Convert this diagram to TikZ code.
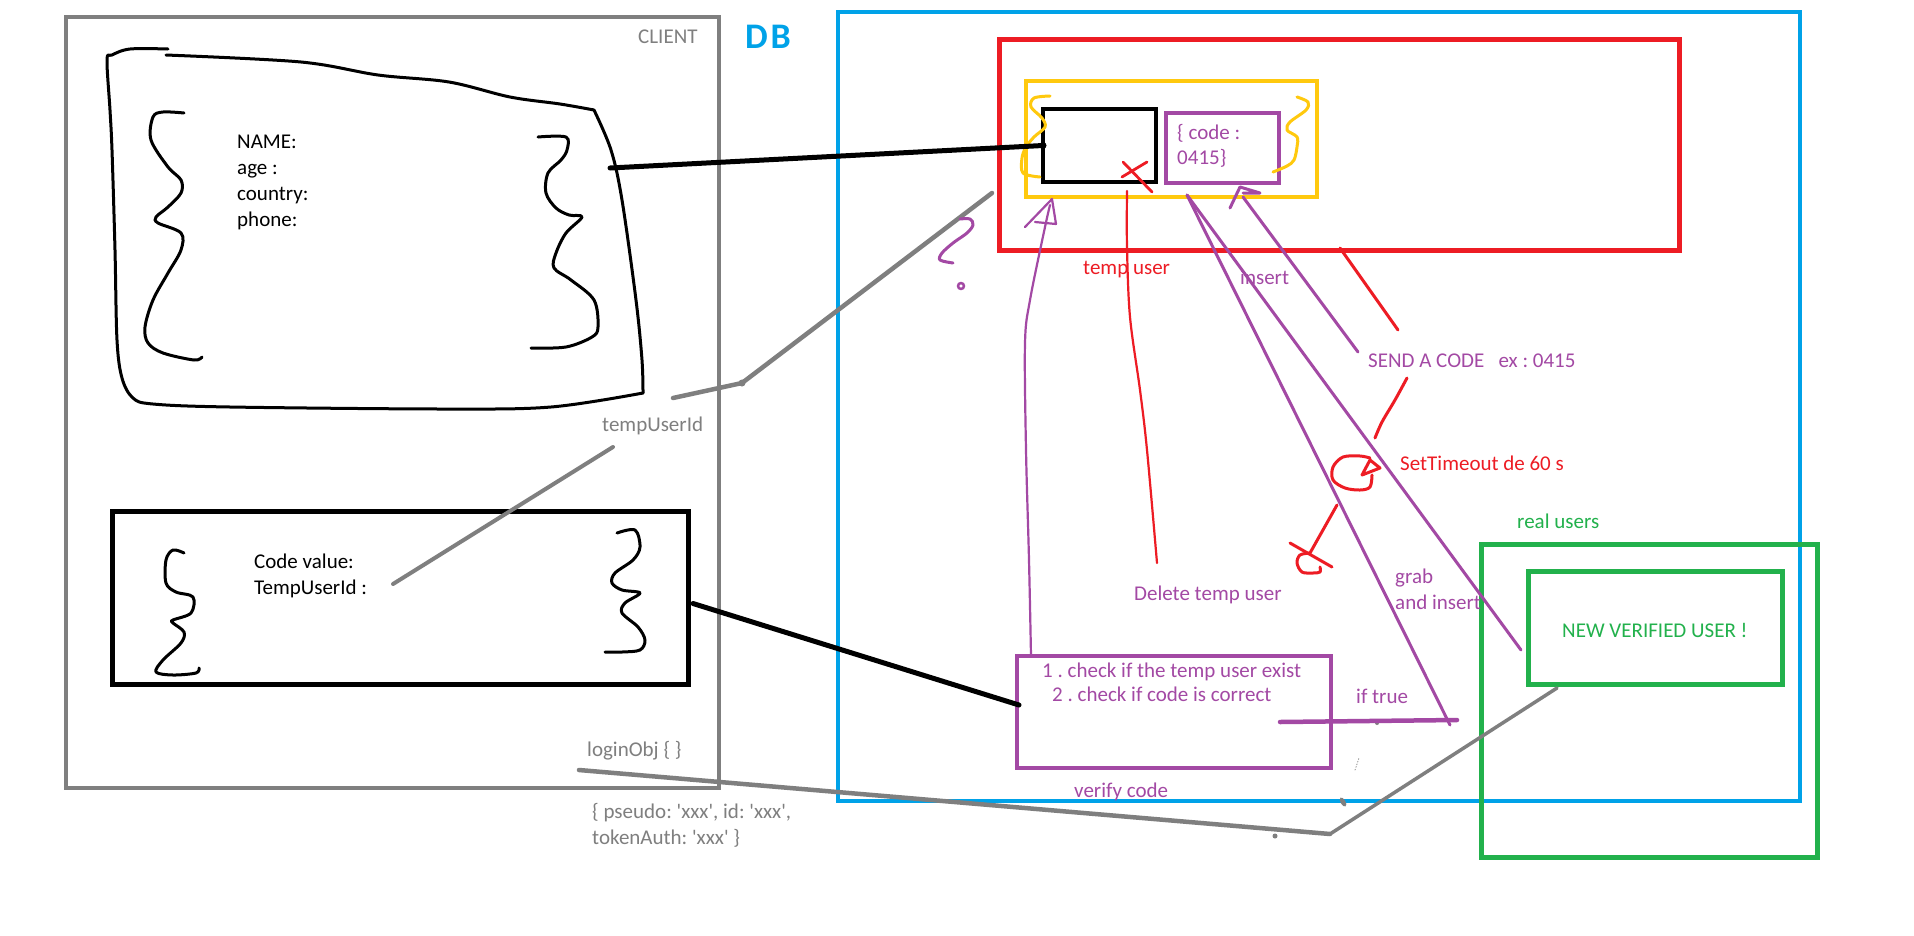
\documentclass[tikz,border=0pt]{standalone}
\usepackage{fontspec}
\setmainfont{Carlito}
\usetikzlibrary{calc}
\definecolor{pgray}{HTML}{7F7F7F}
\definecolor{pblue}{HTML}{00A2E8}
\definecolor{pred}{HTML}{ED1C24}
\definecolor{pyellow}{HTML}{FFC90E}
\definecolor{ppurple}{HTML}{A349A4}
\definecolor{pgreen}{HTML}{22B14C}
\newcommand\sq{\textquotesingle}
\begin{document}
\frenchspacing
\begin{tikzpicture}[x=1pt,y=-1pt,line cap=round,line join=round,
  box/.style={draw,inner sep=0pt,outer sep=0pt,anchor=north west,line width=4.5pt,line join=miter,line cap=butt},
  lbl/.style={inner sep=0pt,anchor=base west,font=\fontsize{21}{25}\selectfont},
  ink/.style={line width=3pt,black},
  pen/.style={line width=3pt},
  thin pen/.style={line width=2.2pt},
  sketch/.style={smooth,tension=0.55}]
\useasboundingbox (0,0) rectangle (1914,935);
\fill[white] (0,0) rectangle (1914,935);

% ---------- frames ----------
\node[box,pgray,line width=4pt,minimum width=653pt,minimum height=771pt] (client) at (66,17) {};
\node[box,pblue,minimum width=962pt,minimum height=789pt] (db) at (838,12) {};
\node[box,pred,line width=5pt,minimum width=680pt,minimum height=211pt] (temptable) at (999,39) {};
\node[box,pyellow,minimum width=291pt,minimum height=116pt] (tempdoc) at (1026,81) {};
\node[box,black,minimum width=113pt,minimum height=73pt] (tb) at (1043,109) {};
\node[box,ppurple,minimum width=113pt,minimum height=70pt] (codedoc) at (1166,113) {};
\node[box,ppurple,minimum width=314pt,minimum height=112pt] (verify) at (1017,656) {};
\node[box,pgreen,line width=5pt,minimum width=336pt,minimum height=313pt] (realusers) at (1481,544) {};
\node[box,pgreen,line width=5pt,minimum width=254pt,minimum height=113pt] (nvu) at (1528,571) {};
\node[box,black,line width=5pt,minimum width=576pt,minimum height=173pt] (codebox) at (112,511) {};

% ---------- hand-drawn registration form ----------
\draw[ink] plot[sketch] coordinates {(168,49) (130,49) (112,55) (107,60) (110,110) (112,150) (115,250) (117,340) (122,378) (133,398) (153,404) (230,407) (444,409) (551,407) (643,393)};
\draw[ink] plot[sketch] coordinates {(643,393) (642,360) (636,300) (622,200) (611,150) (594,110)};
\draw[ink] plot[sketch] coordinates {(166,55) (301,62) (378,75) (449,82) (510,97) (560,104) (594,110)};
% braces of the form
\draw[ink] plot[sketch] coordinates {(184,113) (163,112) (153,117) (151,140) (168,167) (181,180) (181,193) (168,207) (156,217) (158,223) (181,233) (181,250) (168,273) (153,300) (145,327) (148,343) (163,353) (194,360) (202,357)};
\draw[ink] plot[sketch] coordinates {(538,137) (566,137) (567,150) (561,160) (548,173) (546,193) (556,208) (569,215) (582,217) (566,233) (556,253) (554,268) (571,280) (594,300) (598,327) (592,337) (566,347) (531,348)};
% braces of the code form
\draw[ink] plot[sketch] coordinates {(184,553) (173,550) (166,560) (166,583) (176,592) (193,597) (191,613) (173,620) (173,623) (184,632) (181,643) (163,660) (156,672) (173,675) (196,673) (199,668)};
\draw[ink] plot[sketch] coordinates {(617,533) (635,530) (640,547) (633,560) (615,573) (612,583) (622,590) (640,593) (625,603) (622,613) (638,627) (645,640) (640,650) (622,652) (605,652)};
% braces of the temporary document
\draw[pyellow,pen] plot[sketch] coordinates {(1050,96) (1034,98) (1031,107) (1042,118) (1045,127) (1034,137) (1026,147) (1022,158) (1023,173) (1040,177)};
\draw[pyellow,pen] plot[sketch] coordinates {(1297,97) (1308,102) (1306,110) (1290,122) (1287,130) (1297,137) (1297,147) (1294,160) (1287,166) (1273,172)};

% ---------- texts ----------
\node[lbl,pgray] (clientlbl) at (638,43) {CLIENT};
\node[pblue,inner sep=0pt,font=\fontsize{36}{36}\selectfont\bfseries] (dblbl) at (768,37) {D\kern3pt B};
\node[lbl] (fname) at (237,148) {NAME:};
\node[lbl] (fage) at (237,174) {age :};
\node[lbl] (fcountry) at (237,200) {country:};
\node[lbl] (fphone) at (237,226) {phone:};
\node[lbl,pgray] (tuid) at (602,431) {tempUserId};
\node[lbl] (fcode) at (254,568) {Code value:};
\node[lbl] (ftuid) at (254,594) {TempUserId :};
\node[lbl,pgray] (login) at (587,756) {loginObj \{ \}};
\node[lbl,pgray] (login1) at (592,818) {\{ pseudo: \sq xxx\sq, id: \sq xxx\sq,};
\node[lbl,pgray] (login2) at (592,844) {tokenAuth: \sq xxx\sq\ \}};
\node[lbl,ppurple] (code1) at (1177,139) {\{ code :};
\node[lbl,ppurple] (code2) at (1177,164) {0415\}};
\node[lbl,pred] (tulbl) at (1083,274) {temp user};
\node[lbl,ppurple] (inslbl) at (1240,284) {insert};
\node[lbl,ppurple] (sendlbl) at (1368,367) {SEND A CODE\hspace{0.678em}ex : 0415};
\node[lbl,pred] (timeout) at (1400,470) {SetTimeout de 60 s};
\node[lbl,ppurple] (dellbl) at (1134,600) {Delete temp user};
\node[lbl,ppurple] (grab1) at (1395,583) {grab};
\node[lbl,ppurple] (grab2) at (1395,609) {and insert};
\node[lbl,pgreen] (rulbl) at (1517,528) {real users};
\node[lbl,pgreen] (nvulbl) at (1562,637) {NEW VERIFIED USER !};
\node[lbl,ppurple] (chk1) at (1042,677) {1 . check if the temp user exist};
\node[lbl,ppurple] (chk2) at (1052,701) {2 . check if code is correct};
\node[lbl,ppurple] (iftrue) at (1356,703) {if true};
\node[lbl,ppurple] (vlbl) at (1074,797) {verify code};

% ---------- connector points ----------
\coordinate (formport) at (610,168);
\coordinate (tuidfrom) at (673,398);
\coordinate (tuidbend) at (742,383);
\coordinate (tuidto) at (992,193);
\coordinate (codeid) at (393,584);
\coordinate (codeidto) at (613,447);
\coordinate (loginfrom) at (579,770);
\coordinate (loginbend) at (1330,834);
\coordinate (loginto) at (1557,688);
\coordinate (docfoot) at (1187,195);
\coordinate (grabend) at (1450,725);
\coordinate (insend) at (1521,650);
\coordinate (sendfrom) at (1358,352);
\coordinate (codefoot) at (1243,197);
\coordinate (trueend) at (1457,720);

% ---------- black links ----------
\draw[black,line width=5pt] (formport) -- (tb.west);
\fill (tb.west) circle (3.5pt);
\draw[black,line width=5pt] ($(codebox.east)+(5,6)$) -- ($(verify.west)+(2,-7)$);

% ---------- gray links ----------
\draw[pgray,line width=4.5pt] (tuidfrom) -- (tuidbend) -- (tuidto);
\fill[pgray] (tuidbend) circle (3.5pt);
\draw[pgray,line width=4pt] (codeid) -- (codeidto);
\draw[pgray,line width=4.5pt] (loginfrom) -- (loginbend);
\draw[pgray,line width=3.5pt] (loginbend) -- (loginto);
\fill[pgray] (1275,836) circle (2.5pt);
\fill[pgray,rotate around={-60:(1343,802)}] (1343,802) ellipse (5pt and 2.5pt);
\fill[pgray] (1377,723) circle (2pt);
\draw[pgray,line width=0.8pt,dotted] (1355,770) -- (1359,758);

% ---------- purple links ----------
% verify code -> temporary document
\draw[ppurple,thin pen] plot[sketch] coordinates {(1031,656) (1029,560) (1026,450) (1025,343) (1030,300) (1045,227) (1050,205)};
\draw[ppurple,thin pen] (1025,227) -- (1052,199) -- (1056,224) -- (1035,222);
% temporary document -> grab / insert
\draw[ppurple,pen] (docfoot) -- (grabend);
\draw[ppurple,pen] (docfoot) -- (insend);
\draw[ppurple,line width=4.5pt] (1280,722) -- (trueend);
% send a code -> insert
\draw[ppurple,pen] (sendfrom) -- (codefoot);
\draw[ppurple,pen] (1230,208) -- (1240,187) -- (1260,193) -- (1243,193);
% question mark
\draw[ppurple,pen] plot[sketch] coordinates {(960,219) (970,219) (973,225) (967,233) (953,243) (942,253) (940,260) (953,263)};
\draw[ppurple,line width=2.5pt] (961,286) circle (3pt);

% ---------- red strokes ----------
\draw[pred,line width=2.8pt] (1123,162) -- (1152,192);
\draw[pred,line width=2.8pt] (1147,162) -- (1122,177);
\draw[pred,line width=2.2pt] plot[sketch] coordinates {(1127,191) (1127,247) (1130,317) (1140,390) (1147,450) (1157,563)};
\draw[pred,pen] (1340,248) -- (1398,330);
\draw[pred,pen] plot[sketch] coordinates {(1407,378) (1395,400) (1382,422) (1375,438)};
% timer
\draw[pred,pen] plot[sketch] coordinates {(1370,458) (1360,456) (1343,457) (1333,467) (1333,480) (1345,488) (1360,490) (1370,487) (1372,475)};
\draw[pred,pen] (1362,475) -- (1370,460) -- (1380,468) -- cycle;
\draw[pred,pen] (1337,505) -- (1310,553);
\draw[pred,pen] (1290,543) -- (1332,567);
\draw[pred,pen] plot[sketch] coordinates {(1310,553) (1300,555) (1297,563) (1302,572) (1313,573) (1320,572) (1320,567)};
\end{tikzpicture}
\end{document}
